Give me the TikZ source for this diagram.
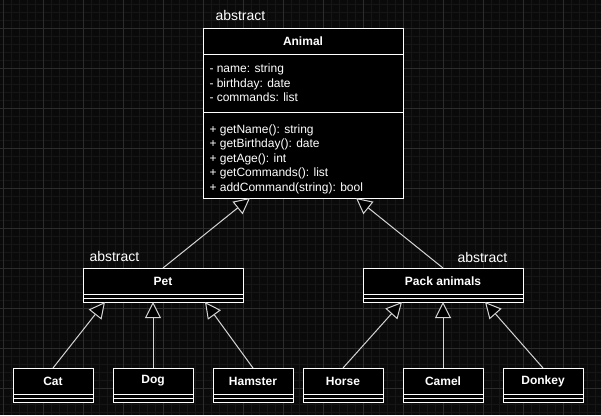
\documentclass[tikz,border=0pt]{standalone}
\usepackage{fontspec}
\setmainfont{Liberation Sans}
\usetikzlibrary{positioning,arrows.meta}

\definecolor{bgdark}{HTML}{0A0A0A}
\definecolor{gridminor}{HTML}{161616}
\definecolor{gridmajor}{HTML}{2C2C2C}
\definecolor{linkgray}{HTML}{D4D4D4}

\begin{document}
\begin{tikzpicture}[x=1pt,y=-1pt,line width=1pt,
    cls/.style={draw=white,fill=black,text=white,inner sep=0pt,outer sep=0pt,
        minimum width=80pt,minimum height=26pt,font=\fontsize{12}{14.5}\selectfont\bfseries},
    stub/.style={draw=white,fill=black,inner sep=0pt,outer sep=0pt,minimum width=80pt,minimum height=8pt,
        path picture={\draw[white,line width=1pt] (path picture bounding box.west) -- (path picture bounding box.east);}},
    members/.style={draw=white,fill=black,inner sep=0pt,outer sep=0pt,minimum width=200pt},
    memtext/.style={text=white,inner sep=0pt,align=left,font=\fontsize{12}{14.5}\selectfont},
    stereo/.style={text=white,inner sep=0pt,anchor=base west,font=\fontsize{14}{16}\selectfont},
    inherit/.style={draw=linkgray,-{Triangle[length=16pt,width=16pt,fill=black]}}]
                \fill[bgdark] (0,0) rectangle (601,415);
                \useasboundingbox (0,0) rectangle (601,415);
                % grid
                \foreach \x in {3,11,...,601} \draw[gridminor,line width=0.6pt] (\x,0) -- (\x,415);
                \foreach \y in {4,12,...,412} \draw[gridminor,line width=0.6pt] (0,\y) -- (601,\y);
                \foreach \x in {3,43,...,601} \draw[gridmajor,line width=0.6pt] (\x,0) -- (\x,415);
                \foreach \y in {28,68,...,412} \draw[gridmajor,line width=0.6pt] (0,\y) -- (601,\y);
                % base class
                \node[cls,minimum width=200pt] (animal) at (303,41) {Animal};
                \node[members,minimum height=58pt,below=0pt of animal] (attrs) {};
                \node[members,minimum height=86pt,below=0pt of attrs] (meths) {};
                \node[memtext,right=6pt of attrs.west] (attrtext) {- name: string\\- birthday: date\\- commands: list};
                \node[memtext,right=6pt of meths.west,yshift=-4pt] (methtext) {+ getName(): string\\+ getBirthday(): date\\+ getAge(): int\\+ getCommands(): list\\+ addCommand(string): bool};
                \node[stereo] (abs1) at ([shift={(12pt,8pt)}]animal.north west) {abstract};
                % middle classes
                \node[cls,minimum width=160pt] (pet) at (163,281) {Pet};
                \node[stub,minimum width=160pt,below=0pt of pet] (petb) {};
                \node[stereo] (abs2) at ([shift={(6pt,7pt)}]pet.north west) {abstract};
                \node[cls,minimum width=160pt] (pack) at (443,281) {Pack animals};
                \node[stub,minimum width=160pt,below=0pt of pack] (packb) {};
                \node[stereo] (abs3) at ([shift={(94pt,6pt)}]pack.north west) {abstract};
                % leaf classes
                \foreach \n/\t/\x in {cat/Cat/53,dog/Dog/153,hamster/Hamster/253,horse/Horse/343,camel/Camel/443,donkey/Donkey/543} {
                    \node[cls] (\n) at (\x,381) {\t};
                    \node[stub,below=0pt of \n] (\n b) {};
                }
                \draw[inherit] (cat.north) -- ([xshift=22pt]petb.south west);
                \draw[inherit] (dog.north) -- (dog.north |- petb.south);
                \draw[inherit] (hamster.north) -- ([xshift=-38pt]petb.south east);
                \draw[inherit] (horse.north) -- ([xshift=39pt]packb.south west);
                \draw[inherit] (camel.north) -- (packb.south);
                \draw[inherit] (donkey.north) -- ([xshift=-38pt]packb.south east);
                \draw[inherit] (pet.north) -- ([xshift=47pt]meths.south west);
                \draw[inherit] (pack.north) -- ([xshift=-47pt]meths.south east);
            \end{tikzpicture}
\end{document}
